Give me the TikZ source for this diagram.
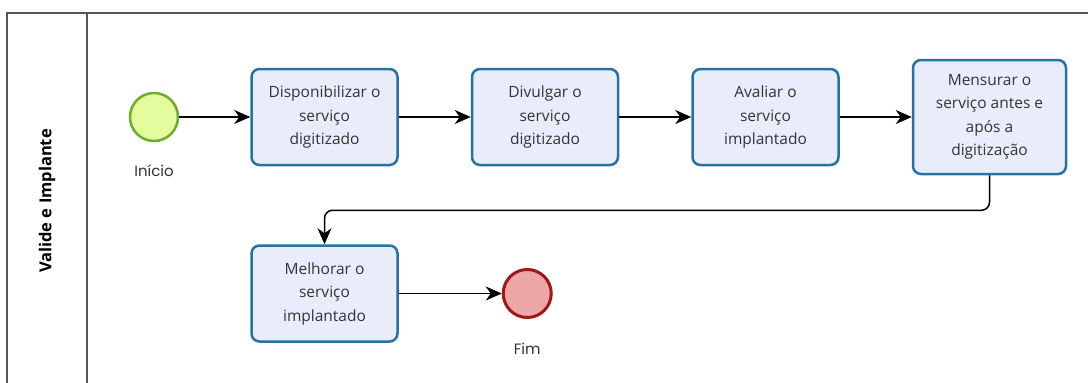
\documentclass[tikz,border=0pt]{standalone}
\usepackage{fontspec}
\setmainfont{Open Sans}
\newfontfamily\evfont{Poppins}
\usetikzlibrary{arrows.meta,positioning}

\definecolor{taskline}{HTML}{2473A6}
\definecolor{taskfill}{HTML}{E9EDFB}
\definecolor{startline}{HTML}{6FAE2A}
\definecolor{startfill}{HTML}{E4FB9E}
\definecolor{endline}{HTML}{A11616}
\definecolor{endfill}{HTML}{EDA7A7}
\definecolor{textgray}{HTML}{333333}
\definecolor{laneline}{HTML}{555555}

\begin{document}
\begin{tikzpicture}[->,>={Stealth[length=16pt,width=14pt,inset=5pt]},line width=1.5pt,
                    node distance=72pt,x=1pt,y=1pt]
  \tikzstyle{task}=[rectangle,rounded corners=8pt,draw=taskline,fill=taskfill,line width=2.5pt,
                    minimum width=146pt,minimum height=96pt,align=center,
                    text=textgray,font=\fontsize{15.5}{23.5}\selectfont]
  \tikzstyle{event}=[circle,minimum size=48pt,inner sep=0pt,line width=2.5pt]
  \tikzstyle{evlabel}=[text=textgray,font=\evfont\fontsize{15}{17}\selectfont]
  \useasboundingbox (0,0) rectangle (1088,-383);

  % pool and lane
  \draw[-,laneline,line width=2pt] (7,-383) -- (7,-13) -- (1088,-13);
  \draw[-,laneline,line width=2pt] (87,-13) -- (87,-383);
  \node[rotate=90,text=black,font=\bfseries\fontsize{16.5}{18}\selectfont] (lane) at (47,-201) {Valide e Implante};

  \node[event,draw=startline,fill=startfill] (start) at (154,-117) {};
  \node[task] (disp)  [right=71pt of start] {Disponibilizar o\\serviço\\digitizado};
  \node[task] (divul) [right=of disp] {Divulgar o\\serviço\\digitizado};
  \node[task] (aval)  [right=of divul] {Avaliar o\\serviço\\implantado};
  \node[task,minimum width=153pt,minimum height=114pt] (mens) [right=of aval] {Mensurar o\\serviço antes e\\após a\\digitização};
  \node[task] (melh)  [below=78pt of disp] {Melhorar o\\serviço\\implantado};
  \node[event,draw=endline,fill=endfill,line width=3pt] (fim) [right=103pt of melh] {};
  \node[evlabel] (startlbl) [below=18pt of start] {Início};
  \node[evlabel] (fimlbl)   [below=20pt of fim] {Fim};

  \draw (start) -- (disp);
  \draw (disp) -- (divul);
  \draw (divul) -- (aval);
  \draw (aval) -- (mens);
  \draw[rounded corners=8pt] (mens.south) -- ++(0,-35) -| (melh.north);
  \draw (melh) -- (fim);
\end{tikzpicture}
\end{document}
